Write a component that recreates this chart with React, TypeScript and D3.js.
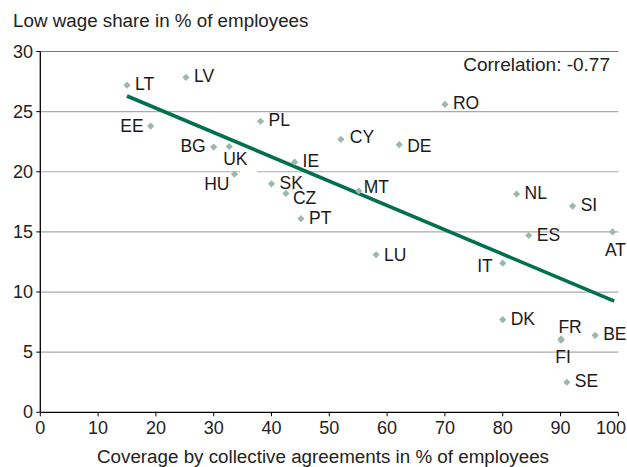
import React from "react";
import * as d3 from "d3";

const countries = ["LT","LV","EE","PL","BG","UK","IE","HU","SK","CZ","PT","CY","DE","RO","MT","NL","SI","ES","AT","LU","IT","DK","FR","FI","BE","SE"];
const coverage = [15,25.2,19.1,38.1,30,32.7,44,33.6,40,42.5,45.1,52,62.1,70,55.1,82.4,92.1,84.5,99,58.1,80,80,90.1,90.1,96,91.1];
const lowWage = [27.2,27.85,23.8,24.2,22.05,22.1,20.8,19.8,19,18.2,16.1,22.7,22.25,25.6,18.4,18.15,17.15,14.7,15,13.1,12.4,7.7,6.1,6.0,6.4,2.5];
const trendX = [15, 99.3];
const trendY = [26.3, 9.25];
const xTicks = [0,10,20,30,40,50,60,70,80,90,100];
const yTicks = [0,5,10,15,20,25,30];
const yTitle = "Low wage share in % of employees";
const xTitle = "Coverage by collective agreements in % of employees";
const corrText = "Correlation: -0.77";

// label placement (layout only): dx, dy (baseline), anchor
const labelPlace: Record<string, [number, number, string]> = {
  EE: [-7, 6, "end"],
  BG: [-8, 5, "end"],
  UK: [6, 18, "middle"],
  HU: [-5, 16, "end"],
  CZ: [7, 11, "start"],
  DE: [8, 7, "start"],
  MT: [5, 2, "start"],
  AT: [3, 24, "middle"],
  IT: [-10, 9, "end"],
  FR: [9, -6, "middle"],
  FI: [2, 23, "middle"],
  LU: [8, 6, "start"],
  CY: [9, 4, "start"],
};

const W = 627, H = 467;
const FONT = "'Liberation Sans', Arial, Helvetica, sans-serif";

export default function App() {
  const x = d3.scaleLinear().domain([0, 100]).range([40.3, 618.3]);
  const y = d3.scaleLinear().domain([0, 30]).range([412.3, 51.5]);
  const line = d3.line<number>().x((_, i) => x(trendX[i])).y((_, i) => y(trendY[i]));
  const diamond = d3.symbol().type(d3.symbolSquare).size(26)();

  return (
    <svg width={W} height={H} style={{ position: "absolute", left: 0, top: 0, background: "#fff" }} fontFamily={FONT}>
      <text x={13} y={27} fontSize={18.8} fill="#222">{yTitle}</text>
      {yTicks.map(t => (
        <g key={"gy" + t}>
          {t > 0 && <line x1={x(0)} x2={x(100)} y1={y(t)} y2={y(t)} stroke={t === 30 ? "#777" : "#aaa"} strokeWidth={1.2} />}
          <line x1={x(0) - 4} x2={x(0)} y1={y(t)} y2={y(t)} stroke="#000" strokeWidth={1} />
          <text x={33} y={y(t) + 6} fontSize={18} textAnchor="end" fill="#222">{t}</text>
        </g>
      ))}
      {xTicks.map(t => {
        const last = t === 100;
        return (
          <g key={"gx" + t}>
            <line x1={x(t)} x2={x(t)} y1={y(0)} y2={y(0) + 4} stroke="#000" strokeWidth={1} />
            <text x={last ? W - 1 : x(t)} y={434} fontSize={18} textAnchor={last ? "end" : "middle"} fill="#222">{t}</text>
          </g>
        );
      })}
      <line x1={x(0)} x2={x(0)} y1={y(30)} y2={y(0)} stroke="#000" strokeWidth={1.3} />
      <line x1={x(0)} x2={x(100)} y1={y(0)} y2={y(0)} stroke="#000" strokeWidth={1.3} />
      <rect x={240} y={y(20) - 1.5} width={17} height={3} fill="#fff" />
      <path d={line(trendX) || ""} stroke="#00704f" strokeWidth={3.6} fill="none" />
      {countries.map((c, i) => {
        const px = x(coverage[i]), py = y(lowWage[i]);
        const p = labelPlace[c] || [8, 5, "start"];
        return (
          <g key={c}>
            <path d={diamond} transform={`translate(${px},${py}) rotate(45)`} fill="#9bb8a8" />
            <text x={px + p[0]} y={py + p[1]} fontSize={17.5} textAnchor={p[2] as any} fill="#1a1a1a">{c}</text>
          </g>
        );
      })}
      <text x={610} y={71} fontSize={19} textAnchor="end" fill="#222">{corrText}</text>
      <text x={323} y={463} fontSize={18.8} textAnchor="middle" fill="#222">{xTitle}</text>
    </svg>
  );
}
